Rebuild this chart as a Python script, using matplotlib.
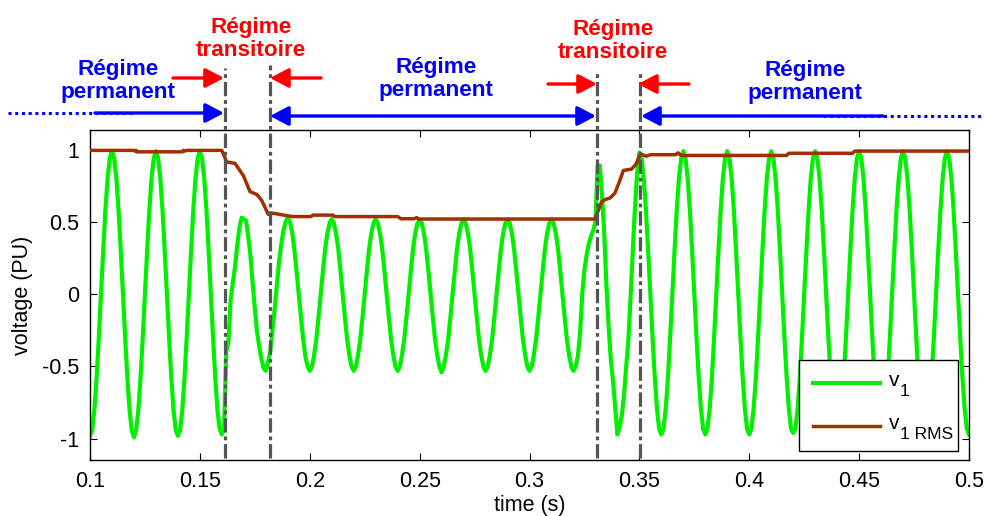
import matplotlib
matplotlib.use("Agg")
import matplotlib.pyplot as plt
import matplotlib.transforms as mtransforms
from matplotlib.patches import Rectangle, FancyArrowPatch
from matplotlib.lines import Line2D
import numpy as np

plt.rcParams['font.family'] = ['Liberation Sans', 'DejaVu Sans']
plt.rcParams['axes.unicode_minus'] = False

# ---------------- data ----------------
t_start, t_step = 0.100, 0.001   # v1 sampled every 1 ms from 0.100 s to 0.500 s
v1 = [
    # 0.100 - 0.119
    -0.98, -0.94, -0.80, -0.58, -0.30, 0.00, 0.30, 0.58, 0.80, 0.94, 0.99, 0.94, 0.80, 0.58, 0.30, 0.00, -0.30, -0.58, -0.80, -0.94,
    # 0.120 - 0.139
    -0.99, -0.94, -0.80, -0.58, -0.30, 0.00, 0.30, 0.58, 0.80, 0.94, 0.99, 0.94, 0.80, 0.58, 0.30, 0.00, -0.30, -0.58, -0.80, -0.94,
    # 0.140 - 0.159
    -0.98, -0.94, -0.80, -0.58, -0.30, 0.00, 0.30, 0.58, 0.80, 0.94, 0.99, 0.94, 0.80, 0.58, 0.30, 0.00, -0.30, -0.58, -0.80, -0.93,
    # 0.160 - 0.179
    -0.97, -0.93, -0.40, -0.33, -0.04, 0.08, 0.19, 0.34, 0.46, 0.53, 0.52, 0.51, 0.40, 0.27, 0.08, -0.10, -0.26, -0.36, -0.45, -0.51,
    # 0.180 - 0.199
    -0.53, -0.47, -0.40, -0.25, -0.11, 0.06, 0.22, 0.34, 0.44, 0.50, 0.53, 0.50, 0.43, 0.31, 0.16, 0.00, -0.16, -0.31, -0.43, -0.50,
    # 0.200 - 0.219
    -0.53, -0.50, -0.42, -0.31, -0.16, 0.00, 0.16, 0.31, 0.42, 0.49, 0.52, 0.49, 0.42, 0.31, 0.16, 0.00, -0.16, -0.31, -0.42, -0.50,
    # 0.220 - 0.239
    -0.53, -0.50, -0.42, -0.31, -0.16, 0.00, 0.16, 0.31, 0.42, 0.49, 0.52, 0.49, 0.42, 0.31, 0.16, 0.00, -0.16, -0.31, -0.42, -0.50,
    # 0.240 - 0.259
    -0.53, -0.50, -0.42, -0.31, -0.16, 0.00, 0.16, 0.31, 0.42, 0.49, 0.51, 0.49, 0.42, 0.31, 0.16, 0.00, -0.16, -0.31, -0.42, -0.50,
    # 0.260 - 0.279
    -0.54, -0.50, -0.42, -0.31, -0.16, 0.00, 0.16, 0.31, 0.42, 0.49, 0.52, 0.49, 0.42, 0.31, 0.16, 0.00, -0.16, -0.31, -0.42, -0.50,
    # 0.280 - 0.299
    -0.53, -0.50, -0.42, -0.31, -0.16, 0.00, 0.16, 0.31, 0.42, 0.49, 0.52, 0.49, 0.42, 0.31, 0.16, 0.00, -0.16, -0.31, -0.42, -0.50,
    # 0.300 - 0.319
    -0.53, -0.50, -0.42, -0.31, -0.16, 0.00, 0.16, 0.31, 0.42, 0.49, 0.52, 0.49, 0.42, 0.31, 0.16, 0.00, -0.16, -0.31, -0.42, -0.50,
    # 0.320 - 0.339
    -0.53, -0.50, -0.43, -0.27, 0.00, 0.17, 0.27, 0.35, 0.40, 0.44, 0.50, 0.89, 0.89, 0.69, 0.42, 0.06, -0.22, -0.45, -0.60, -0.78,
    # 0.340 - 0.359
    -0.97, -0.92, -0.84, -0.70, -0.50, -0.32, -0.02, 0.30, 0.60, 0.84, 0.98, 0.94, 0.80, 0.58, 0.30, 0.00, -0.30, -0.57, -0.79, -0.93,
    # 0.360 - 0.379
    -0.97, -0.93, -0.79, -0.58, -0.30, 0.00, 0.30, 0.58, 0.80, 0.94, 0.99, 0.94, 0.80, 0.58, 0.30, 0.00, -0.30, -0.57, -0.79, -0.93,
    # 0.380 - 0.399
    -0.97, -0.93, -0.79, -0.58, -0.30, 0.00, 0.30, 0.58, 0.80, 0.94, 0.99, 0.94, 0.80, 0.58, 0.30, 0.00, -0.30, -0.57, -0.79, -0.93,
    # 0.400 - 0.419
    -0.97, -0.93, -0.79, -0.58, -0.30, 0.00, 0.30, 0.58, 0.80, 0.94, 0.99, 0.94, 0.80, 0.58, 0.30, 0.00, -0.30, -0.57, -0.79, -0.93,
    # 0.420 - 0.439
    -0.96, -0.93, -0.79, -0.58, -0.30, 0.00, 0.30, 0.58, 0.80, 0.94, 0.99, 0.94, 0.80, 0.58, 0.30, 0.00, -0.30, -0.57, -0.79, -0.93,
    # 0.440 - 0.459
    -0.97, -0.93, -0.79, -0.58, -0.30, 0.00, 0.30, 0.58, 0.80, 0.94, 0.99, 0.94, 0.80, 0.58, 0.30, 0.00, -0.30, -0.57, -0.79, -0.93,
    # 0.460 - 0.479
    -0.97, -0.93, -0.79, -0.58, -0.30, 0.00, 0.30, 0.58, 0.80, 0.94, 0.99, 0.94, 0.80, 0.58, 0.30, 0.00, -0.30, -0.57, -0.79, -0.93,
    # 0.480 - 0.499
    -0.97, -0.93, -0.79, -0.58, -0.30, 0.00, 0.30, 0.58, 0.80, 0.94, 0.99, 0.94, 0.80, 0.58, 0.30, 0.00, -0.30, -0.57, -0.79, -0.93,
    # 0.500
    -0.97,
]

# RMS value: breakpoints (time, value)
rms_t = [0.100, 0.1200, 0.1205, 0.1210, 0.1215, 0.1420, 0.1425, 0.1430, 0.1440, 0.1600,
         0.1622, 0.1660, 0.1698, 0.1728, 0.1759, 0.1781, 0.1811, 0.1834, 0.1920,
         0.2005, 0.2015, 0.2105, 0.2115, 0.2400, 0.2415, 0.2475, 0.2487, 0.2495,
         0.3298, 0.3328, 0.3345, 0.3366, 0.3389, 0.3412, 0.3427, 0.3465, 0.3485, 0.3503,
         0.3515, 0.3530, 0.3550, 0.3665, 0.3676, 0.3690, 0.4170, 0.4180, 0.4470, 0.4480, 0.500]
rms_v = [0.995, 0.995, 0.990, 0.995, 0.985, 0.985, 0.995, 0.990, 0.995, 0.995,
         0.915, 0.905, 0.820, 0.710, 0.690, 0.650, 0.553, 0.560, 0.537,
         0.537, 0.547, 0.547, 0.537, 0.537, 0.522, 0.522, 0.530, 0.520,
         0.520, 0.640, 0.655, 0.665, 0.700, 0.790, 0.856, 0.866, 0.900, 0.965,
         0.965, 0.955, 0.965, 0.965, 0.978, 0.960, 0.960, 0.975, 0.975, 0.990, 0.990]

event_times = [0.1614, 0.1817, 0.3307, 0.3505]
x_ticks = [0.1, 0.15, 0.2, 0.25, 0.3, 0.35, 0.4, 0.45, 0.5]
x_tick_labels = ['0.1', '0.15', '0.2', '0.25', '0.3', '0.35', '0.4', '0.45', '0.5']
y_ticks = [-1, -0.5, 0, 0.5, 1]
y_tick_labels = ['-1', '-0.5', '0', '0.5', '1']
legend_main = ['v', 'v']
legend_sub = ['1', '1 RMS']

t = np.round(t_start + t_step * np.arange(len(v1)), 4)

# ---------------- figure ----------------
W, H = 984, 516
fig = plt.figure(figsize=(W / 100, H / 100), dpi=100)
ax = fig.add_axes([90 / W, 56 / H, 879 / W, 330 / H])

green = '#00f000'
brown = '#a03000'
ax.plot(t, v1, color=green, lw=3.0, zorder=2, solid_joinstyle='round')
ax.plot(rms_t, rms_v, color=brown, lw=2.5, zorder=3)

ax.set_xlim(0.1, 0.5)
ax.set_ylim(-1.147, 1.136)
ax.set_xticks(x_ticks)
ax.set_xticklabels(x_tick_labels)
ax.set_yticks(y_ticks)
ax.set_yticklabels(y_tick_labels)
ax.tick_params(direction='in', top=True, right=True, length=5, width=0.8,
               labelsize=15.5, pad=8)
for s in ax.spines.values():
    s.set_linewidth(1.0)
ax.set_xlabel('time (s)', fontsize=15.5, labelpad=2)
ax.set_ylabel('voltage (PU)', fontsize=15.5, labelpad=6)


def P(x, y):
    return (x / W, 1 - y / H)


# vertical dash-dot event lines (x in data, y in figure pixels)
blend = mtransforms.blended_transform_factory(ax.transData, fig.transFigure)
tops = [68, 65, 73, 72]
for xe, top in zip(event_times, tops):
    ax.plot([xe, xe], [1 - 458 / H, 1 - top / H], transform=blend, clip_on=False,
            color='#555555', lw=2.3, dashes=(4.5, 1.2, 1.2, 1.2), zorder=4)

# legend (drawn by hand so the subscripts look like the original)
fig.add_artist(Rectangle(P(799, 451), 159 / W, 91 / H, transform=fig.transFigure,
                         facecolor='white', edgecolor='black', lw=1.0, zorder=10))
for (yl, col, lw), main, sub in zip([(383, green, 3.0), (426, brown, 2.5)], legend_main, legend_sub):
    fig.add_artist(Line2D([813 / W, 880 / W], [1 - yl / H] * 2, color=col, lw=lw, zorder=11))
    fig.text(*P(889, yl + 3), main, fontsize=15, ha='left', va='baseline', zorder=12)
    fig.text(*P(900, yl + 13), sub, fontsize=12.5, ha='left', va='baseline', zorder=12)


def arrow(x0, y0, x1, y1, color, both=False):
    style = '<|-|>' if both else '-|>'
    fig.add_artist(FancyArrowPatch(
        P(x0, y0), P(x1, y1), transform=fig.transFigure,
        arrowstyle=style + ',head_length=0.8,head_width=0.42',
        mutation_scale=14, color=color, lw=2.4, shrinkA=0, shrinkB=0))


blue = '#0000ff'
red = '#ff0000'
txt_kw = dict(ha='center', va='center', fontsize=16.2, fontweight='bold',
              linespacing=1.1)
fig.text(*P(118, 81), 'Régime\npermanent', color=blue, **txt_kw)
fig.text(*P(251, 39), 'Régime\ntransitoire', color=red, **txt_kw)
fig.text(*P(436, 79), 'Régime\npermanent', color=blue, **txt_kw)
fig.text(*P(613, 41), 'Régime\ntransitoire', color=red, **txt_kw)
fig.text(*P(805, 82), 'Régime\npermanent', color=blue, **txt_kw)

# dotted continuation lines
fig.add_artist(Line2D([8 / W, 133 / W], [1 - 113 / H] * 2, color=blue,
                      lw=2.2, dashes=(1, 1.2)))
fig.add_artist(Line2D([823 / W, 983 / W], [1 - 116 / H] * 2, color=blue,
                      lw=2.2, dashes=(1, 1.2)))

arrow(95, 113, 224, 113, blue)
arrow(270, 116, 596, 116, blue, both=True)
arrow(883, 116, 641, 116, blue)
arrow(173, 78, 224, 78, red)
arrow(321, 78, 270, 78, red)
arrow(548, 84, 597, 84, red)
arrow(689, 84, 638, 84, red)

fig.savefig('out.png', dpi=100)
